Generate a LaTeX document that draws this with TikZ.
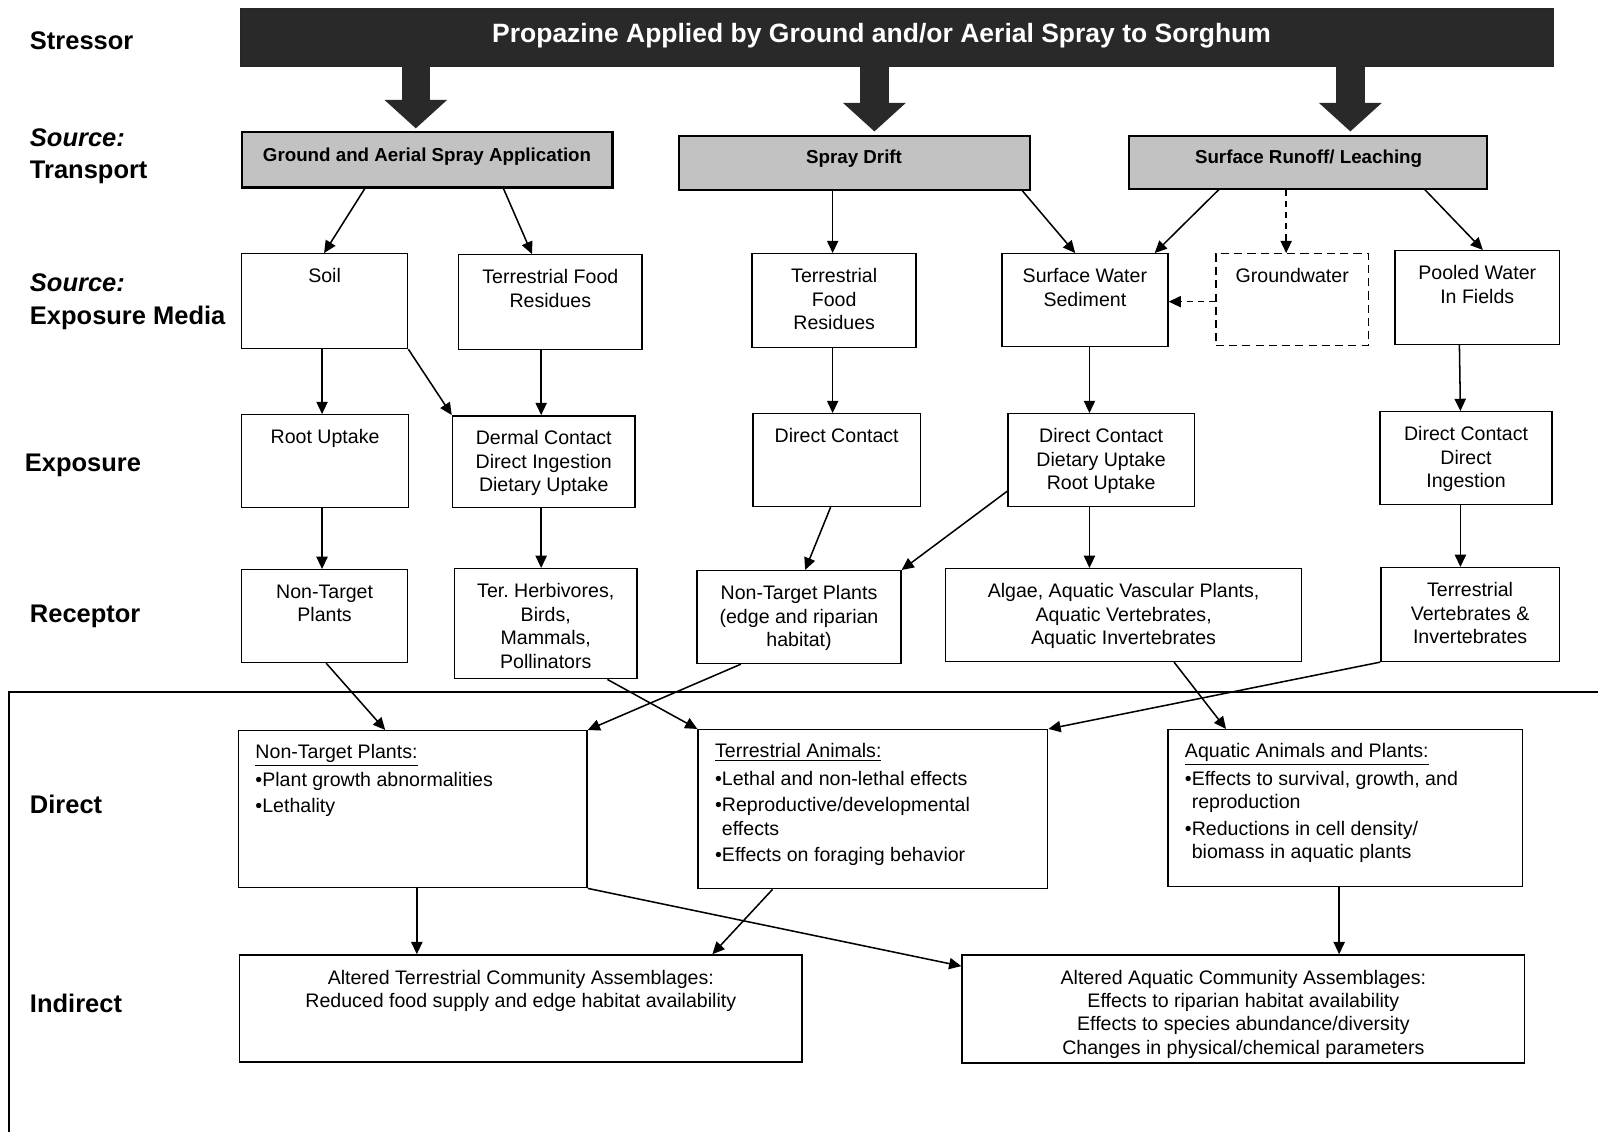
\documentclass[tikz,border=0pt]{standalone}
\usepackage{fontspec}
\setmainfont{Liberation Sans}
\usetikzlibrary{arrows.meta,fit}
\frenchspacing
\begin{document}
\begin{tikzpicture}[x=0.5pt,y=-0.5pt,
  box/.style={draw, line width=0.7pt, inner sep=0pt},
  srcbox/.style={draw, line width=1pt, inner sep=0pt, fill=black!24,
     font=\bfseries\fontsize{9.2}{11}\selectfont},
  banner/.style={draw=black!85, fill=black!84, inner sep=0pt, text=white,
     font=\bfseries\fontsize{13}{15}\selectfont},
  dashbox/.style={box, dash pattern=on 4pt off 2.5pt},
  lbl/.style={anchor=north, align=center, inner sep=0pt, yshift=-7.5pt,
     font=\fontsize{9.6}{11.5}\selectfont},
  dlbl/.style={anchor=north west, align=left, inner sep=0pt, yshift=-7pt, xshift=8.5pt,
     font=\fontsize{9.6}{11.5}\selectfont},
  side/.style={anchor=west, align=left, inner sep=0pt,
     font=\bfseries\fontsize{12.5}{15.8}\selectfont},
  arr/.style={line width=0.75pt, -{Triangle[length=6pt,width=5.5pt]}},
  darr/.style={arr, dash pattern=on 3pt off 2.5pt},
  fat/.style={line width=14pt, draw=black!84, -{Triangle[length=14pt,width=30pt]}, shorten >=1.5pt}
]
\useasboundingbox (0,0) rectangle (1568,1111);
\fill[white] (0,0) rectangle (1568,1111);

% side labels
\node[side] (lStress) at (29,40) {Stressor};
\node[side] (lTrans) at (29,153) {\textit{Source:}\\Transport};
\node[side] (lMedia) at (29,296) {\textit{Source:}\\Exposure Media};
\node[side] (lExp) at (24,457) {Exposure};
\node[side] (lRec) at (29,605) {Receptor};
\node[side] (lDir) at (29,789) {Direct};
\node[side] (lInd) at (29,985) {Indirect};

% frame of effects area
\draw[line width=0.8pt] (1568,679) -- (9,679) -- (9,1111);

% stressor banner
\node[banner, fit={(236,8) (1524,65)}] (stress) {};
\node[inner sep=0pt, text=white, font=\bfseries\fontsize{13}{15}\selectfont] (stresstxt) at (865,35) {Propazine Applied by Ground and/or Aerial Spray to Sorghum};

% transport boxes
\node[srcbox, fit={(237,130) (601,184)}] (gasa) {};
\node[inner sep=0pt, font=\bfseries\fontsize{9.2}{11}\selectfont] (gasatxt) at (419,154) {Ground and Aerial Spray Application};
\node[srcbox, fit={(666,133) (1011,186)}] (drift) {};
\node[inner sep=0pt, font=\bfseries\fontsize{9.2}{11}\selectfont] (drifttxt) at (838,156) {Spray Drift};
\node[srcbox, fit={(1108,133) (1459,185)}] (runoff) {};
\node[inner sep=0pt, font=\bfseries\fontsize{9.2}{11}\selectfont] (runofftxt) at (1284,156) {Surface Runoff/ Leaching};

% fat arrows
\draw[fat] (stress.south -| 408,0) -- (gasa.north -| 408,0);
\draw[fat] (stress.south -| 858,0) -- (drift.north -| 858,0);
\draw[fat] (stress.south -| 1325,0) -- (runoff.north -| 1325,0);

% exposure media
\node[box, fit={(237,249) (400,342)}, label={[lbl]north:{Soil}}] (soil) {};
\node[box, fit={(450,250) (630,343)}, label={[lbl]north:{Terrestrial Food\\Residues}}] (tfr1) {};
\node[box, fit={(738,249) (899,341)}, label={[lbl]north:{Terrestrial\\Food\\Residues}}] (tfr2) {};
\node[box, fit={(983,249) (1146,340)}, label={[lbl]north:{Surface Water\\Sediment}}] (sws) {};
\node[dashbox, fit={(1193,249) (1343,339)}, label={[lbl]north:{Groundwater}}] (gw) {};
\node[box, fit={(1369,246) (1530,338)}, label={[lbl]north:{Pooled Water\\In Fields}}] (pool) {};

% exposure
\node[box, fit={(237,407) (401,498)}, label={[lbl]north:{Root Uptake}}] (root) {};
\node[box, fit={(444,408) (623,498)}, label={[lbl]north:{Dermal Contact\\Direct Ingestion\\Dietary Uptake}}] (derm) {};
\node[box, fit={(739,406) (903,497)}, label={[lbl]north:{Direct Contact}}] (dcon) {};
\node[box, fit={(989,406) (1172,497)}, label={[lbl]north:{Direct Contact\\Dietary Uptake\\Root Uptake}}] (dc2) {};
\node[box, fit={(1354,404) (1523,495)}, label={[lbl]north:{Direct Contact\\Direct\\Ingestion}}] (dc3) {};

% receptors
\node[box, fit={(237,559) (400,650)}, label={[lbl]north:{Non-Target\\Plants}}] (ntp1) {};
\node[box, fit={(446,558) (625,666)}, label={[lbl]north:{Ter.\ Herbivores,\\Birds,\\Mammals,\\Pollinators}}] (therb) {};
\node[box, fit={(684,560) (884,651)}, label={[lbl]north:{Non-Target Plants\\(edge and riparian\\habitat)}}] (ntpe) {};
\node[box, fit={(928,558) (1277,649)}, label={[lbl]north:{Algae, Aquatic Vascular Plants,\\Aquatic Vertebrates,\\Aquatic Invertebrates}}] (alg) {};
\node[box, fit={(1355,557) (1530,649)}, label={[lbl]north:{Terrestrial\\Vertebrates \&\\Invertebrates}}] (tv) {};

% direct effects
\node[box, fit={(234,717) (576,871)}, label={[dlbl]north west:{\underline{Non-Target Plants:}\\[2pt]•Plant growth abnormalities\\[1.5pt]•Lethality}}] (dntp) {};
\node[box, fit={(685,716) (1028,872)}, label={[dlbl]north west:{\underline{Terrestrial Animals:}\\[2pt]•Lethal and non-lethal effects\\[1.5pt]•Reproductive/developmental\\\phantom{•}effects\\[1.5pt]•Effects on foraging behavior}}] (tan) {};
\node[box, fit={(1146,716) (1494,870)}, label={[dlbl]north west:{\underline{Aquatic Animals and Plants:}\\[2pt]•Effects to survival, growth, and\\\phantom{•}reproduction\\[1.5pt]•Reductions in cell density/\\\phantom{•}biomass in aquatic plants}}] (aqa) {};

% indirect effects
\node[box, fit={(235,937) (787,1042)}, label={[lbl]north:{Altered Terrestrial Community Assemblages:\\Reduced food supply and edge habitat availability}}] (ater) {};
\node[box, fit={(944,937) (1496,1043)}, label={[lbl]north:{Altered Aquatic Community Assemblages:\\Effects to riparian habitat availability\\Effects to species abundance/diversity\\Changes in physical/chemical parameters}}] (aaq) {};

% transport -> media
\draw[arr] (gasa.south -| 358,0) -- (soil.north -| 318,0);
\draw[arr] (gasa.south -| 494,0) -- (tfr1.north -| 522,0);
\draw[arr] (drift.south -| 817,0) -- (tfr2.north -| 817,0);
\draw[arr] (drift.south -| 1003,0) -- (sws.north -| 1055,0);
\draw[arr] (runoff.south -| 1196,0) -- (sws.north -| 1133,0);
\draw[darr] (runoff.south -| 1262,0) -- (gw.north -| 1262,0);
\draw[arr] (runoff.south -| 1398,0) -- (pool.north -| 1455,0);
\draw[darr] (gw.west |- 0,296) -- (sws.east |- 0,296);

% media -> exposure
\draw[arr] (soil.south -| 316,0) -- (root.north -| 316,0);
\draw[arr] (soil.south east) -- (derm.north west);
\draw[arr] (tfr1.south -| 531,0) -- (derm.north -| 531,0);
\draw[arr] (tfr2.south -| 817,0) -- (dcon.north -| 817,0);
\draw[arr] (sws.south -| 1069,0) -- (dc2.north -| 1069,0);
\draw[arr] (pool.south -| 1432,0) -- (dc3.north -| 1433,0);

% exposure -> receptor
\draw[arr] (root.south -| 316,0) -- (ntp1.north -| 316,0);
\draw[arr] (derm.south -| 531,0) -- (therb.north -| 531,0);
\draw[arr] (dcon.south -| 815,0) -- (ntpe.north -| 790,0);
\draw[arr] (dc2.west |- 0,482) -- (ntpe.north east);
\draw[arr] (dc2.south -| 1069,0) -- (alg.north -| 1069,0);
\draw[arr] (dc3.south -| 1433,0) -- (tv.north -| 1433,0);

% receptor -> direct
\draw[arr] (ntp1.south -| 320,0) -- (dntp.north -| 378,0);
\draw[arr] (therb.south -| 596,0) -- (tan.north west);
\draw[arr] (ntpe.south -| 727,0) -- (dntp.north east);
\draw[arr] (alg.south -| 1152,0) -- (aqa.north -| 1203,0);
\draw[arr] (tv.south west) -- (tan.north east);

% direct -> indirect
\draw[arr] (dntp.south -| 409,0) -- (ater.north -| 409,0);
\draw[arr] (dntp.south east) -- (aaq.west |- 0,948);
\draw[arr] (tan.south -| 758,0) -- (ater.north -| 699,0);
\draw[arr] (aqa.south -| 1314,0) -- (aaq.north -| 1314,0);
\end{tikzpicture}
\end{document}
